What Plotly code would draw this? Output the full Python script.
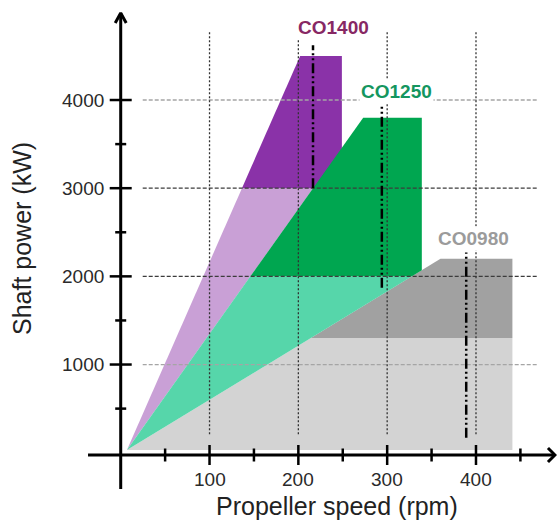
import plotly.graph_objects as go

# ---------------- data ----------------
x_tick_vals = [100, 200, 300, 400]
x_tick_text = ["100", "200", "300", "400"]
x_minor_vals = [50, 150, 250, 350, 450]
y_tick_vals = [1000, 2000, 3000, 4000]
y_tick_text = ["1000", "2000", "3000", "4000"]
y_minor_vals = [500, 1500, 2500, 3500]

engines = ["CO1400", "CO1250", "CO0980"]

# operating envelopes (rpm, kW)
co1400_dark_rpm = [136.5, 202, 249, 249]
co1400_dark_kw = [3000, 4500, 4500, 3000]
co1400_light_rpm = [7, 136.5, 216.7]
co1400_light_kw = [30, 3000, 3000]

co1250_dark_rpm = [146, 273, 339, 339, 328]
co1250_dark_kw = [2000, 3800, 3800, 2070, 2000]
co1250_light_rpm = [7, 146, 328]
co1250_light_kw = [30, 2000, 2000]

co0980_dark_rpm = [214, 360, 441, 441]
co0980_dark_kw = [1300, 2200, 2200, 1300]
co0980_light_rpm = [7, 214, 441, 441]
co0980_light_kw = [30, 1300, 1300, 30]

# rated speed markers (rpm) and their vertical extent (kW)
rated_rpm = [216.5, 294, 389]
rated_kw_low = [3000, 1870, 170]
rated_kw_high = [4620, 3940, 2270]

# ---------------- styling ----------------
FONT = "Liberation Sans, Arial, Helvetica, sans-serif"
X_RANGE = [-135.9, 491.2]
Y_RANGE = [-774.6, 5134.4]
W, H = 557, 521
px_x = (X_RANGE[1] - X_RANGE[0]) / W   # rpm per pixel
px_y = (Y_RANGE[1] - Y_RANGE[0]) / H   # kW per pixel

fig = go.Figure()

def poly(xs, ys, color):
    fig.add_trace(go.Scatter(x=xs + [xs[0]], y=ys + [ys[0]], mode="lines",
                             fill="toself", fillcolor=color,
                             line=dict(width=0, color=color),
                             hoverinfo="skip", showlegend=False))

poly(co1400_light_rpm, co1400_light_kw, "rgb(201,160,214)")
poly(co1400_dark_rpm, co1400_dark_kw, "rgb(138,50,168)")
poly(co0980_light_rpm, co0980_light_kw, "rgb(211,211,211)")
poly(co0980_dark_rpm, co0980_dark_kw, "rgb(161,161,161)")
poly(co1250_light_rpm, co1250_light_kw, "rgb(86,214,170)")
poly(co1250_dark_rpm, co1250_dark_kw, "rgb(0,166,80)")

def seg(x0, x1, y0, y1, color, width, dash="solid"):
    fig.add_trace(go.Scatter(x=[x0, x1], y=[y0, y1], mode="lines",
                             line=dict(color=color, width=width, dash=dash),
                             hoverinfo="skip", showlegend=False))

# horizontal grid lines
grid_x0 = 0 + 22 * px_x
grid_x1 = 469
for v in y_tick_vals:
    col = "rgb(60,60,60)" if v in (2000, 3000) else "rgb(165,165,165)"
    seg(grid_x0, grid_x1, v, v, col, 1.3, "4px,2px")

# vertical grid lines
for v in x_tick_vals:
    seg(v, v, 210, 4790, "rgb(50,50,50)", 1.3, "2px,2px")

# rated speed dash-dot-dot lines
for r, lo, hi in zip(rated_rpm, rated_kw_low, rated_kw_high):
    seg(r, r, lo, hi, "black", 2.5, "10px,3px,2px,3px,2px,3px")

# axes
x_axis_y = -26
axis_col = "black"
seg(0, 0, -412, 4987, axis_col, 3)
seg(-36.8, 488.9, x_axis_y, x_axis_y, axis_col, 3)
# arrow heads (chevrons)
fig.add_trace(go.Scatter(x=[-5.5 * px_x, 0, 5.5 * px_x], y=[4987 - 10 * px_y, 4987, 4987 - 10 * px_y],
                         mode="lines", line=dict(color=axis_col, width=3),
                         hoverinfo="skip", showlegend=False))
fig.add_trace(go.Scatter(x=[488.9 - 7 * px_x, 488.9, 488.9 - 7 * px_x],
                         y=[x_axis_y + 7 * px_y, x_axis_y, x_axis_y - 7 * px_y],
                         mode="lines", line=dict(color=axis_col, width=3),
                         hoverinfo="skip", showlegend=False))

# ticks
for v in y_tick_vals:
    seg(-11 * px_x, 11 * px_x, v, v, axis_col, 2.5)
for v in y_minor_vals:
    seg(-5.5 * px_x, 5.5 * px_x, v, v, axis_col, 2.5)
for v in x_tick_vals:
    seg(v, v, x_axis_y - 10 * px_y, x_axis_y + 10 * px_y, axis_col, 2.5)
for v in x_minor_vals:
    seg(v, v, x_axis_y - 6.5 * px_y, x_axis_y + 6.5 * px_y, axis_col, 2.5)

annotations = []
for v, t in zip(y_tick_vals, y_tick_text):
    annotations.append(dict(x=-15 * px_x, y=v, text=t, showarrow=False, xanchor="right",
                            yanchor="middle", font=dict(family=FONT, size=19, color="#2a2a2a")))
for v, t in zip(x_tick_vals, x_tick_text):
    annotations.append(dict(x=v, y=x_axis_y - 24 * px_y, text=t, showarrow=False, xanchor="center",
                            yanchor="middle", font=dict(family=FONT, size=19, color="#2a2a2a")))

# axis titles
annotations.append(dict(x=(336.5 - 120.7) * px_x, y=x_axis_y - 51 * px_y, text="Propeller speed (rpm)",
                        showarrow=False, xanchor="center", yanchor="middle",
                        font=dict(family=FONT, size=25, color="#222")))
annotations.append(dict(x=(22 - 120.7) * px_x, y=(452.7 - 239) * px_y, text="Shaft power (kW)",
                        showarrow=False, textangle=-90, xanchor="center", yanchor="middle",
                        font=dict(family=FONT, size=25, color="#222")))

# engine labels
label_pos = [(240, 4817), (311, 4101), (397.6, 2434)]
label_col = ["rgb(135,40,100)", "rgb(20,150,95)", "rgb(155,155,155)"]
for name, (lx, ly), c in zip(engines, label_pos, label_col):
    annotations.append(dict(x=lx, y=ly, text="<b>" + name + "</b>", showarrow=False,
                            xanchor="center", yanchor="middle", bgcolor="white",
                            font=dict(family=FONT, size=19, color=c)))

fig.update_layout(
    width=W, height=H, autosize=False,
    margin=dict(l=0, r=0, t=0, b=0),
    paper_bgcolor="white", plot_bgcolor="white",
    xaxis=dict(range=X_RANGE, visible=False, fixedrange=True),
    yaxis=dict(range=Y_RANGE, visible=False, fixedrange=True),
    annotations=annotations,
    showlegend=False,
)

fig.write_html("out.html", config={"displayModeBar": False},
               post_script="document.body.style.margin='0px';document.body.style.padding='0px';")
